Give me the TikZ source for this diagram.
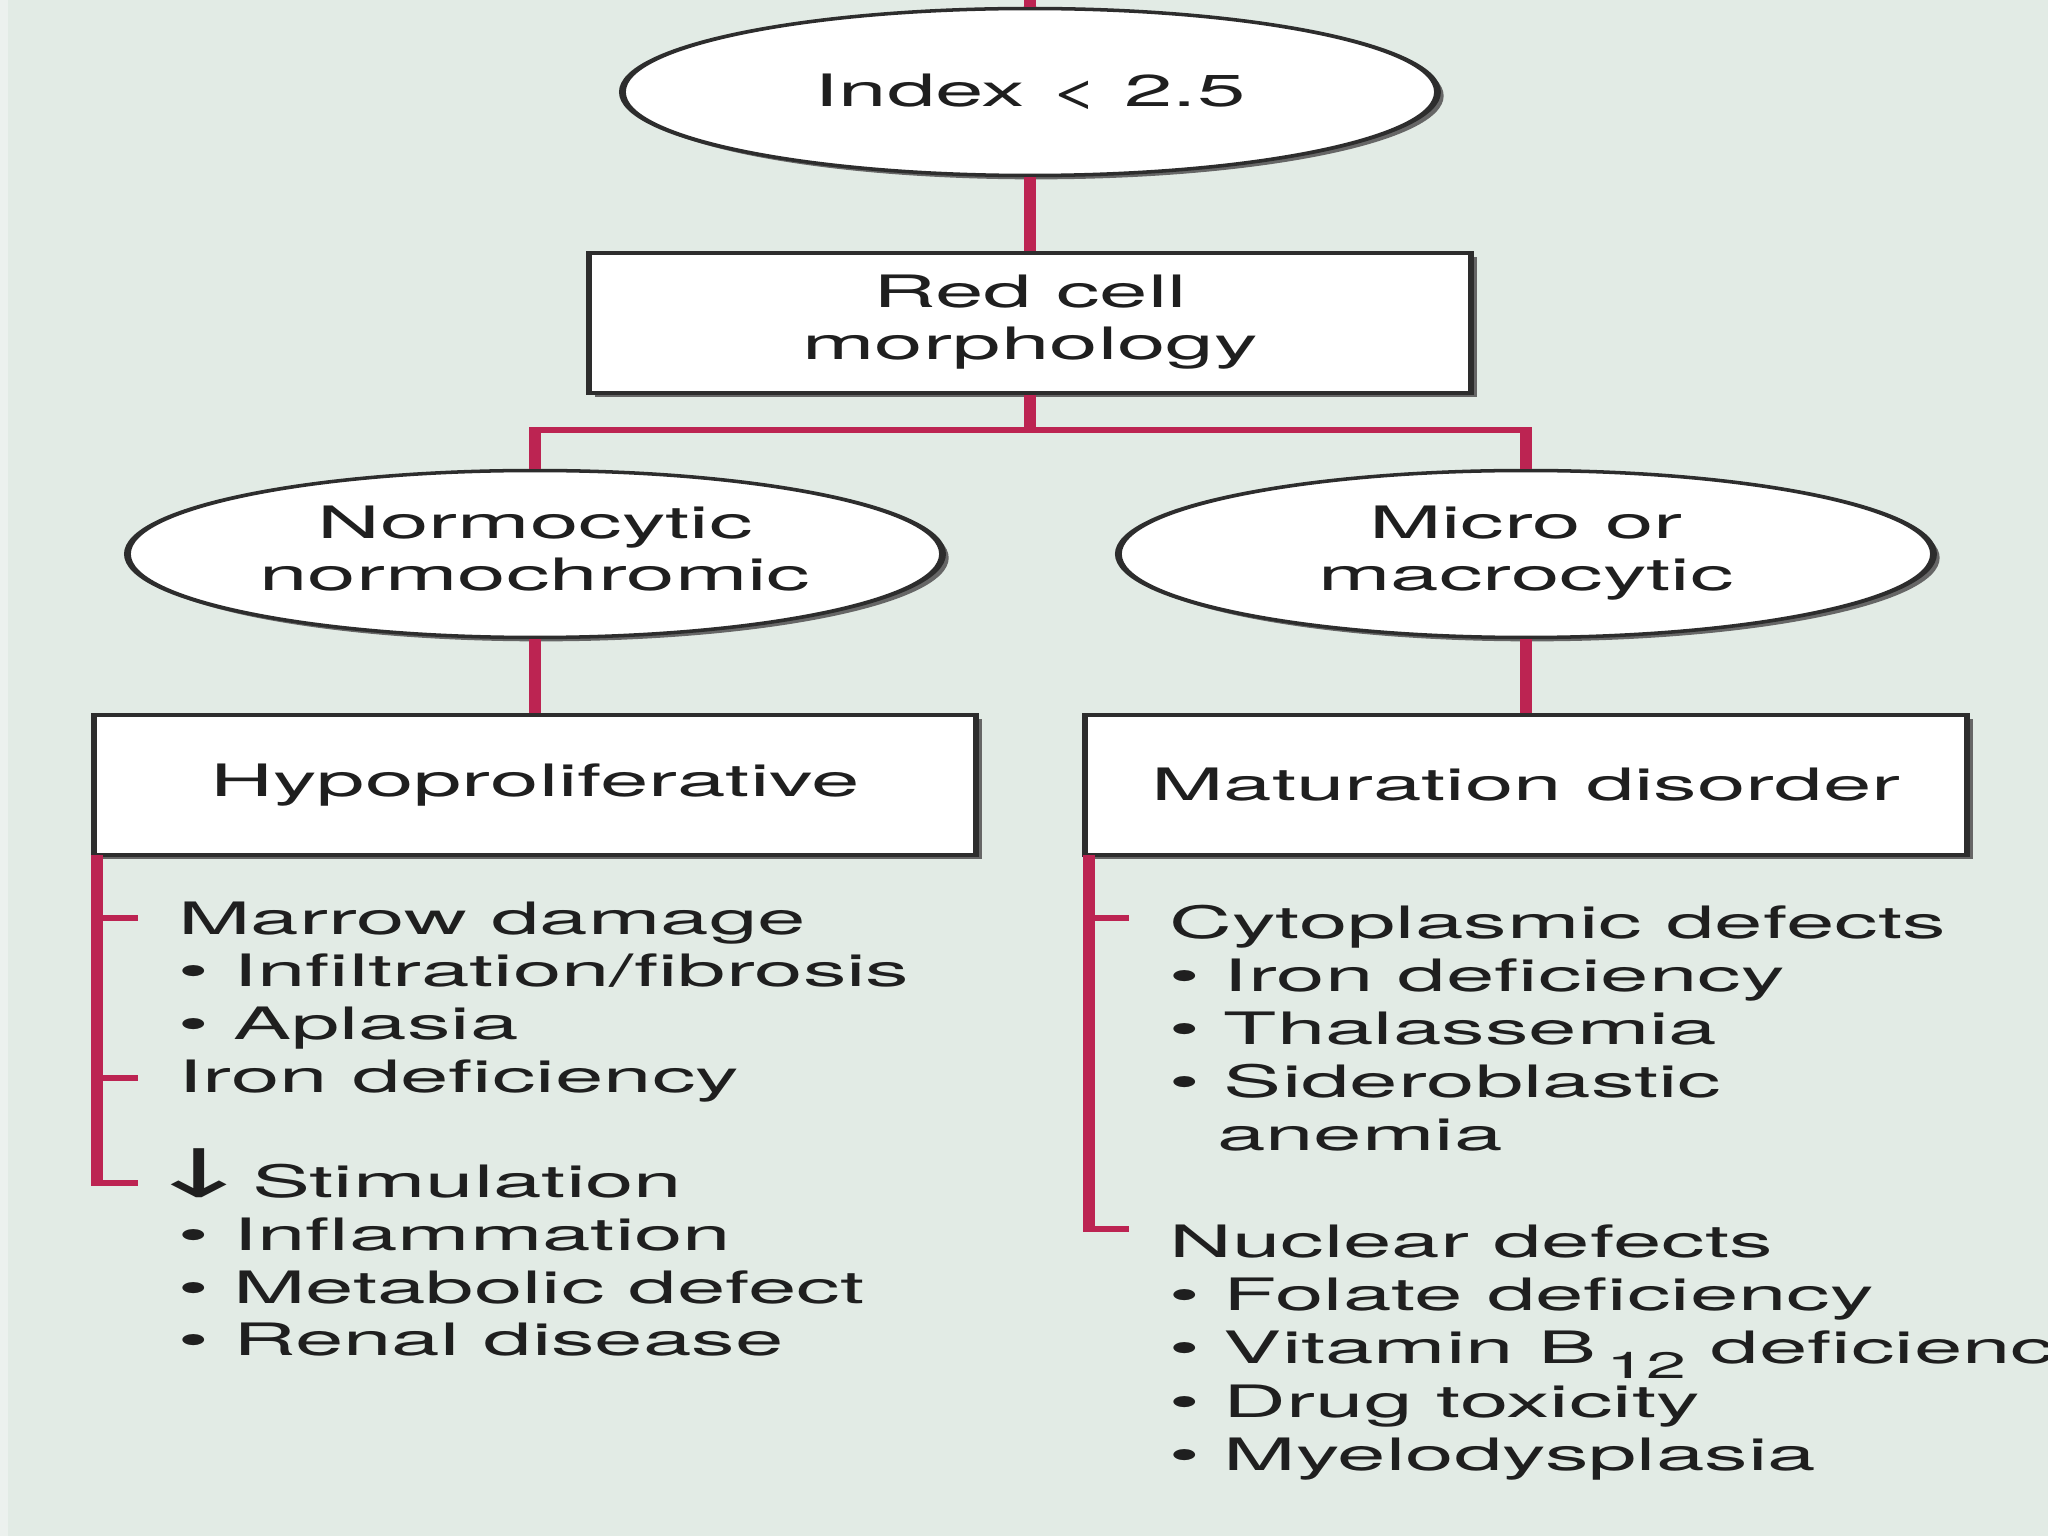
\documentclass[tikz,border=0pt]{standalone}
\usepackage{fontspec}
\setmainfont{TeX Gyre Heros}
\newfontfamily\arrowfont{DejaVu Sans}
\usetikzlibrary{shapes.geometric, shadows}
\definecolor{paper}{RGB}{226,235,229}
\definecolor{crimson}{RGB}{188,36,82}
\definecolor{edge}{RGB}{45,45,45}
\newcommand{\bul}{\textbullet\ }
\tikzset{
  every node/.style={font=\fontsize{12.7}{15}\selectfont, text=black!88},
  oval/.style={ellipse, draw=edge, line width=1pt, fill=white, inner sep=0pt,
    minimum width=4.18cm, minimum height=1.67cm,
    drop shadow={shadow xshift=0.9pt, shadow yshift=-1.1pt, fill=black!60, opacity=1}},
  card/.style={rectangle, draw=edge, line width=1pt, fill=white, inner sep=0pt,
    minimum width=4.523cm, minimum height=1.40cm,
    drop shadow={shadow xshift=0.9pt, shadow yshift=-1.1pt, fill=black!60, opacity=1}},
  link/.style={crimson, line width=1.7pt},
  items/.style={anchor=base west, inner sep=0pt}
}

\begin{document}
\begin{tikzpicture}[x=1cm, y=-1cm]
\useasboundingbox (0,0) rectangle (20.48,15.36);
\fill[paper] (0,0) rectangle (20.48,15.36);
\fill[white, opacity=0.35] (0,0) rectangle (0.08,15.36);
\clip (0,0) rectangle (20.48,15.36);
\begin{scope}[transform canvas={xscale=1.95}, x=0.5128cm]
% Boxes
    \node[oval] (idx) at (10.30,0.92) {Index < 2.5};
    \node[card] (rcm) at (10.30,3.23) {\begin{tabular}{@{}c@{}}Red cell\\ morphology\end{tabular}};
    \node[oval] (norm) at (5.35,5.54) {\begin{tabular}{@{}c@{}}Normocytic\\ normochromic\end{tabular}};
    \node[oval] (micro) at (15.26,5.54) {\begin{tabular}{@{}c@{}}Micro or\\ macrocytic\end{tabular}};
    \node[card] (hypo) at (5.35,7.85) {Hypoproliferative};
    \node[card] (matur) at (15.26,7.85) {Maturation disorder};
% Links
    \coordinate (entry) at (10.30,-0.1);
    \coordinate (fork) at (10.30,4.30);
    \draw[link] (entry) -- (idx);
    \draw[link] (idx) -- (rcm);
    \draw[link] (rcm) -- (fork);
    \draw[link] (norm) |- (fork) -| (micro);
    \draw[link] (norm) -- (hypo);
    \draw[link] (micro) -- (matur);
% Brackets
    \coordinate (ltop) at (0.97,8.55);
    \coordinate (lend) at (1.38,11.83);
    \draw[link] (ltop) |- (lend);
    \foreach \ty in {9.18,10.78}
        \draw[link] (0.97,\ty) -- (1.38,\ty);
    \coordinate (rtop) at (10.89,8.55);
    \coordinate (rend) at (11.29,12.29);
    \draw[link] (rtop) |- (rend);
    \draw[link] (10.89,9.18) -- (11.29,9.18);
% Lists
    \node[items] (hypolist) at (1.77,9.34) {\begin{tabular}[t]{@{}l@{}}
        Marrow damage\\
        \bul Infiltration/fibrosis\\
        \bul Aplasia\\
        Iron deficiency\\
        \\
        \kern-5pt\smash{\scalebox{1.5}{\arrowfont ↓}}\kern-0.2pt Stimulation\\
        \bul Inflammation\\
        \bul Metabolic defect\\
        \bul Renal disease
    \end{tabular}};
    \node[items, font=\fontsize{12.7}{15.15}\selectfont] (maturlist) at (11.68,9.38) {\begin{tabular}[t]{@{}l@{}}
        Cytoplasmic defects\\
        \bul Iron deficiency\\
        \bul Thalassemia\\
        \bul Sideroblastic\\
        \hphantom{\textbullet\ }\kern-1pt anemia\\
        \\
        Nuclear defects\\
        \bul Folate deficiency\\
        \bul Vitamin B\kern1.5pt\raisebox{-4.2pt}[0pt][0pt]{\fontsize{10.5}{10}\selectfont 12}\ deficiency\\
        \bul Drug toxicity\\
        \bul Myelodysplasia
    \end{tabular}};
\end{scope}
\end{tikzpicture}
\end{document}
